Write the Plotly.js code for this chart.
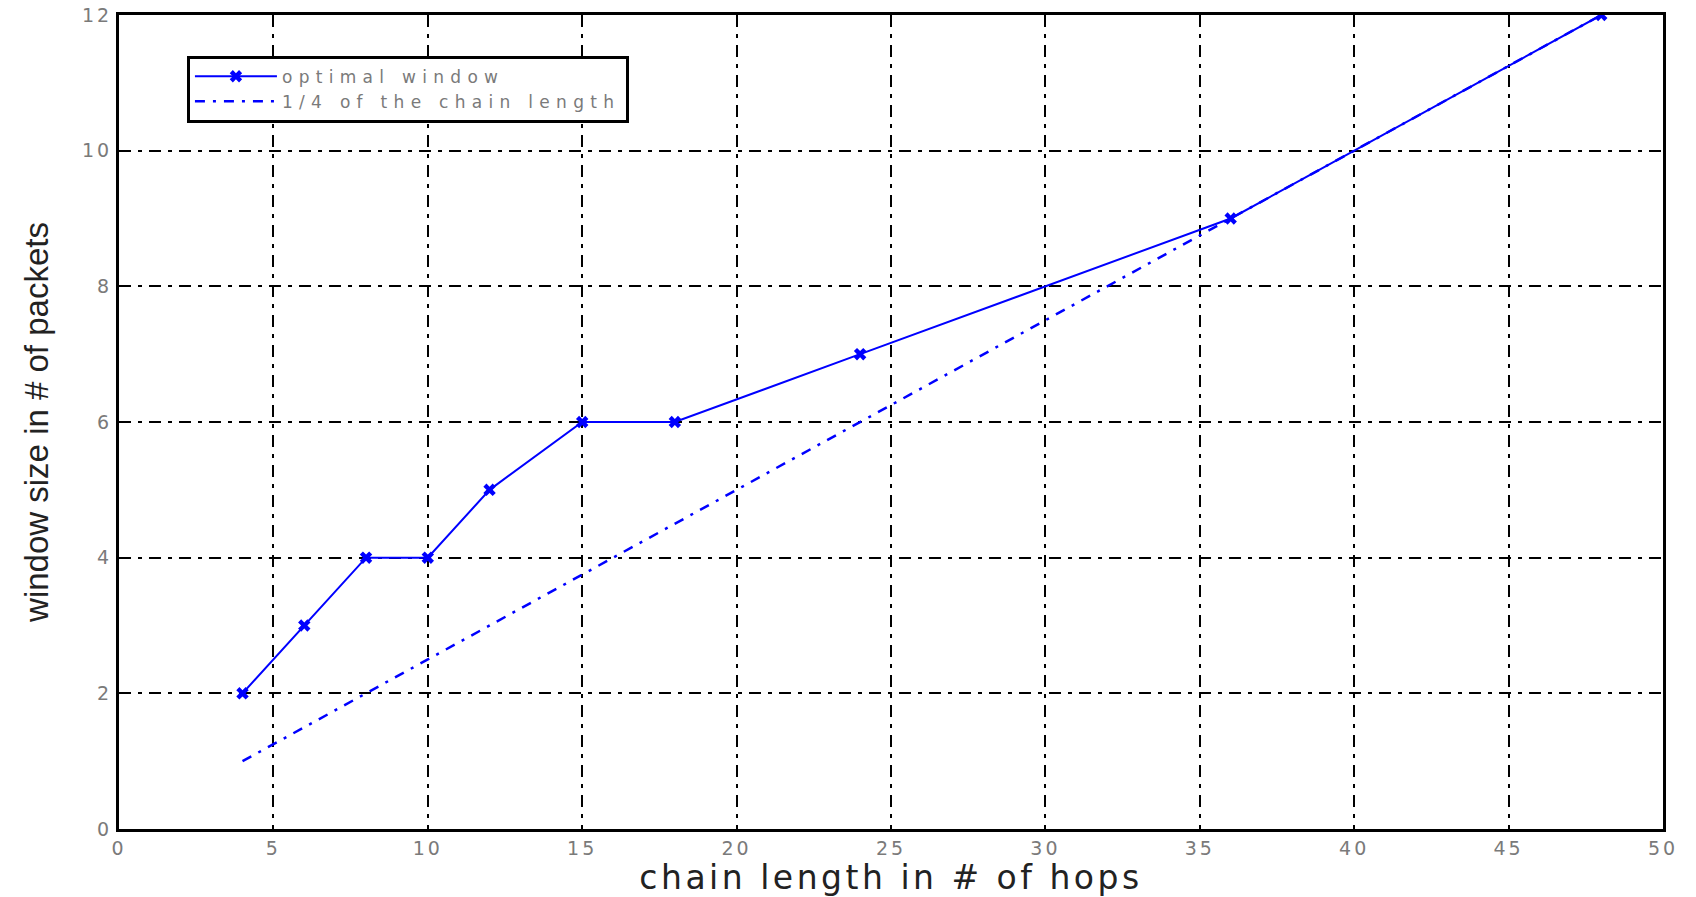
<!DOCTYPE html>
<html>
<head>
<meta charset="utf-8">
<script src="https://cdn.plot.ly/plotly-3.0.1.min.js"></script>
<style>
html,body{margin:0;padding:0;background:#fff;}
#chart{width:1696px;height:897px;}
.xtitle{letter-spacing:3.5px;}
.legendtext{letter-spacing:6.3px;}
.xtick text,.ytick text{letter-spacing:3px;}
</style>
</head>
<body>
<div id="chart"></div>
<script>
// chain length (hops) and optimal window size (packets)
const optimalHops = [4, 6, 8, 10, 12, 15, 18, 24, 36, 48];
const optimalWindow = [2, 3, 4, 4, 5, 6, 6, 7, 9, 12];
// 1/4 of the chain length reference line
const quarterHops = [4, 48];
const quarterWindow = [1, 12];

const xTickVals = [0, 5, 10, 15, 20, 25, 30, 35, 40, 45, 50];
const xTickText = ['0', '5', '10', '15', '20', '25', '30', '35', '40', '45', '50'];
const yTickVals = [0, 2, 4, 6, 8, 10, 12];
const yTickText = ['0', '2', '4', '6', '8', '10', '12'];

const seriesNames = ['optimal window', '1/4 of the chain length'];
const xTitle = 'chain length in # of hops';
const yTitle = 'window size in # of packets';

const blue = '#0000ff';
const traces = [
  {
    x: optimalHops, y: optimalWindow, name: seriesNames[0], type: 'scatter', mode: 'lines+markers',
    line: {color: blue, width: 2},
    marker: {color: blue, symbol: 'x', size: 11}
  },
  {
    x: quarterHops, y: quarterWindow, name: seriesNames[1], type: 'scatter', mode: 'lines',
    line: {color: blue, width: 2.5, dash: '10px,8px,3px,8px'}
  }
];

const gridStyle = {
  showgrid: true, gridcolor: '#000', gridwidth: 2, griddash: '12px,7px,4px,7px',
  showline: true, mirror: true, linecolor: '#000', linewidth: 3,
  zeroline: false, ticks: '',
  tickfont: {family: 'DejaVu Sans, Arial, sans-serif', size: 19, color: '#7a7a7a'}
};

const layout = {
  width: 1696, height: 897,
  margin: {l: 119, r: 33, t: 15, b: 68},
  paper_bgcolor: '#fff', plot_bgcolor: '#fff',
  showlegend: true,
  legend: {
    x: 0.044, y: 0.95, xanchor: 'left', yanchor: 'top',
    bgcolor: '#fff', bordercolor: '#000', borderwidth: 3,
    font: {family: 'DejaVu Sans, Arial, sans-serif', size: 17, color: '#7a7a7a'},
    itemwidth: 82, tracegroupgap: 0
  },
  xaxis: Object.assign({}, gridStyle, {
    range: [0, 50], tickvals: xTickVals, ticktext: xTickText,
    title: {text: xTitle, standoff: 6, font: {family: 'DejaVu Sans, Arial, sans-serif', size: 33, color: '#222'}}
  }),
  yaxis: Object.assign({}, gridStyle, {
    range: [0, 12], tickvals: yTickVals, ticktext: yTickText,
    ticklabelstandoff: 0,
    title: {text: yTitle, standoff: 24, font: {family: 'Liberation Sans, Arial, sans-serif', size: 33, color: '#222'}}
  })
};

Plotly.newPlot('chart', traces, layout, {displayModeBar: false, staticPlot: true});
</script>
</body>
</html>
